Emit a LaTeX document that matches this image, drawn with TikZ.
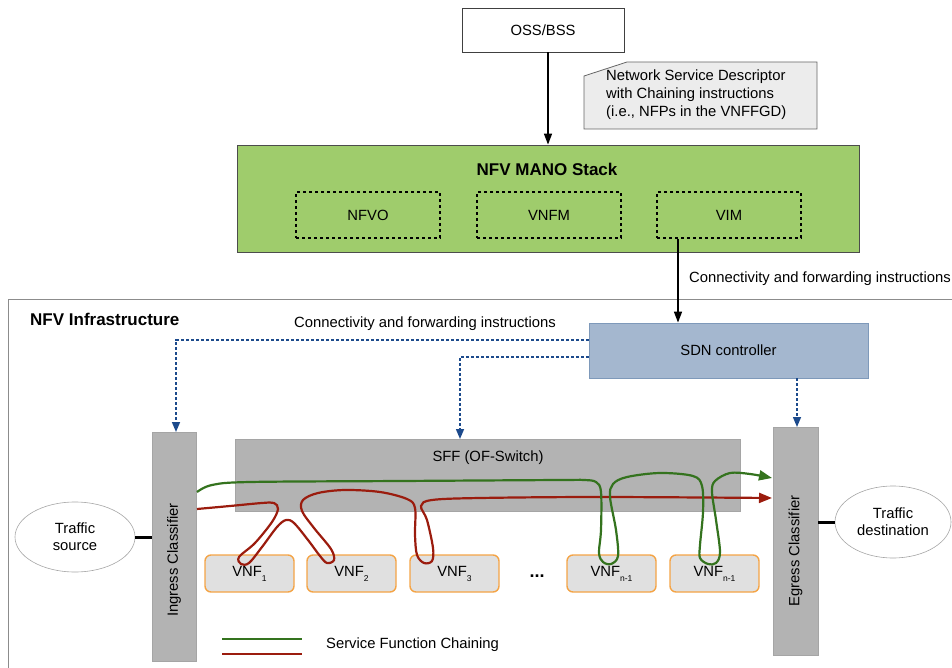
\documentclass[tikz,border=0pt]{standalone}
\usepackage{fontspec}
\setmainfont{Liberation Sans}
\usetikzlibrary{arrows.meta,shapes.geometric,calc}
\definecolor{gfill}{RGB}{159,204,108}
\definecolor{sdnfill}{RGB}{164,183,207}
\definecolor{sdnline}{RGB}{126,153,186}
\definecolor{boxgray}{RGB}{179,179,179}
\definecolor{vnffill}{RGB}{224,224,224}
\definecolor{vnfline}{RGB}{244,164,70}
\definecolor{flowgreen}{RGB}{52,115,30}
\definecolor{flowred}{RGB}{155,28,14}
\definecolor{ctrlblue}{RGB}{28,74,140}
\definecolor{notefill}{RGB}{236,236,236}
\newcommand{\vnfsub}[1]{\raisebox{-5pt}{\fontsize{8.5}{9}\selectfont #1}}
\begin{document}
\begin{tikzpicture}[x=1pt,y=-1pt,
  every node/.style={font=\fontsize{14.8}{17}\selectfont, inner sep=0pt},
  plainbox/.style={draw=black!75, line width=0.8pt, fill=white},
  fnbox/.style={draw=black, dashed, line width=1.4pt, minimum width=144pt, minimum height=46pt},
  graybox/.style={fill=boxgray, draw=boxgray!80!black!40!boxgray, line width=0.4pt},
  vnfbox/.style={draw=vnfline, fill=vnffill, line width=1.4pt, rounded corners=6pt, minimum width=89pt, minimum height=37pt},
  endpoint/.style={ellipse, draw=black!35, fill=white, line width=0.6pt, align=center},
  blackarrow/.style={draw=black, line width=1.5pt, -{Triangle[length=11pt,width=8pt]}},
  ctrlarrow/.style={draw=ctrlblue, line width=1.5pt, dash pattern=on 3pt off 2pt, -{Triangle[length=10pt,width=8pt]}},
  flowgreenline/.style={draw=flowgreen, line width=2.2pt},
  flowredline/.style={draw=flowred, line width=2.2pt},
  flowtip/.style={-{Triangle[length=13pt,width=10pt]}},
  boldtitle/.style={font=\fontsize{17}{19}\selectfont\bfseries}
]
\useasboundingbox (0,0) rectangle (952,668);
\begin{scope}
\clip (0,0) rectangle (952,668);
% infrastructure frame
\draw[black!45, line width=1pt] (8,299) rectangle (1000,720);
\end{scope}
\node[anchor=west, boldtitle] (nfvi) at (30,319) {NFV Infrastructure};

% OSS/BSS
\node[plainbox, minimum width=162pt, minimum height=44pt] (oss) at (543,30) {OSS/BSS};

% note
\draw[draw=black!60, fill=notefill, line width=0.8pt] (584,76) -- (627,62) -- (817,62) -- (817,129) -- (584,129) -- cycle;
\node[anchor=north west, align=left, font=\fontsize{14.8}{18}\selectfont] (note) at (606,70) {Network Service Descriptor\\with Chaining instructions\\(i.e., NFPs in the VNFFGD)};

% MANO
\node[draw=black!70, fill=gfill, line width=0.8pt, minimum width=622pt, minimum height=107pt] (mano) at (548,198.5) {};
\node[boldtitle] (manot) at (547,169) {NFV MANO Stack};
\node[fnbox] (nfvo) at (368,215) {NFVO};
\node[fnbox] (vnfm) at (549,215) {VNFM};
\node[fnbox] (vim) at (729,215) {VIM};

\draw[blackarrow] (oss.south -| mano.north) -- (mano.north);

% SDN controller
\node[draw=sdnline, fill=sdnfill, line width=0.8pt, minimum width=279pt, minimum height=55pt] (sdn) at (728.5,350.5) {SDN controller};
\coordinate (va) at ($(vim.south)+(-51,0)$);
\draw[blackarrow] (va) -- (va |- sdn.north);
\node[anchor=west] (lab1) at (689,279) {Connectivity and forwarding instructions};
\node (lab2) at (425,324) {Connectivity and forwarding instructions};

% classifiers and SFF
\node[graybox, minimum width=44pt, minimum height=229pt] (ing) at (174,546.5) {};
\node[rotate=90] (ingt) at (174,560) {Ingress Classifier};
\node[graybox, minimum width=45pt, minimum height=228pt] (egr) at (795.5,541) {};
\node[rotate=90] (egrt) at (795.5,551) {Egress Classifier};
\node[graybox, minimum width=505pt, minimum height=72pt] (sff) at (487.5,475) {};
\node (sfft) at (488,458) {SFF (OF-Switch)};

% control arrows
\draw[ctrlarrow] (sdn.west |- 0,340) -| (176,432);
\draw[ctrlarrow] (sdn.west |- 0,357) -| (460,439);
\draw[ctrlarrow] (797,378) -- (797,427);

% endpoints
\node[endpoint, minimum width=120pt, minimum height=70pt] (src) at (75,537) {Traffic\\source};
\node[endpoint, minimum width=116pt, minimum height=72pt] (dst) at (893,522) {Traffic\\destination};
\draw[black, line width=3pt] (src.east) -- (src.east -| ing.west);
\draw[black, line width=3pt] (egr.east |- dst.west) -- (dst.west);

% VNFs
\node[vnfbox] (v1) at (249.5,573.5) {VNF\vnfsub{1}};
\node[vnfbox] (v2) at (351.5,573.5) {VNF\vnfsub{2}};
\node[vnfbox] (v3) at (454.5,573.5) {VNF\vnfsub{3}};
\node[vnfbox] (v4) at (611.5,573.5) {VNF\vnfsub{n-1}};
\node[vnfbox] (v5) at (714.5,573.5) {VNF\vnfsub{n-1}};
\node[font=\fontsize{18}{18}\selectfont\bfseries] (dots) at (537,576) {...};

% red chain
\draw[flowredline, flowtip] plot[smooth, tension=0.55] coordinates {
 (197,509) (230,506) (262,503) (274,503) (278,509) (272,522) (255,543) (239,557) (241,564) (249,563) (262,547)
 (277,527) (286,520) (294,523) (308,540) (320,556) (327,563) (334,560) (331,549) (314,528) (302,511) (303,500)
 (318,493) (345,490) (380,492) (407,499) (415,508) (415,535) (417,555) (424,563) (432,561) (433,548) (427,520)
 (421,506) (432,500) (480,498) (600,497) (772,498)};

% green chain
\draw[flowgreenline, flowtip] plot[smooth, tension=0.55] coordinates {
 (197,492) (212,485) (250,482) (400,481) (560,480) (584,480) (596,482) (601,492) (601,530) (599,553) (603,562) (611,564)
 (618,556) (616,530) (610,497) (613,484) (627,477) (660,473) (693,476) (702,486) (703,512) (700,545) (700,558)
 (708,564) (716,563) (720,552) (716,520) (712,492) (715,481) (730,473) (750,474) (772,478)};

% legend
\draw[flowgreenline, line width=2.4pt] (222,639) -- (302,639);
\draw[flowredline, line width=2.4pt] (222,654) -- (302,654);
\node[anchor=west] (leg) at (326,645) {Service Function Chaining};
\end{tikzpicture}
\end{document}
